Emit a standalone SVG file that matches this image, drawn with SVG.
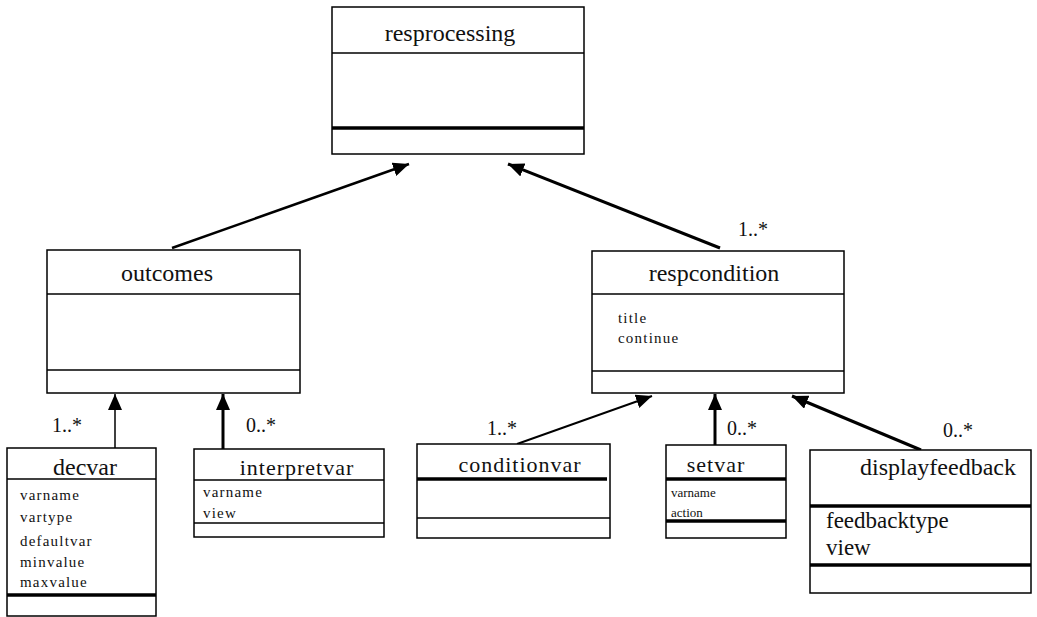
<svg xmlns="http://www.w3.org/2000/svg" width="1037" height="617" viewBox="0 0 1037 617">
<style>
.box{fill:#fff;stroke:#000;stroke-width:1.5}
.sep{stroke:#000;stroke-width:1.5}
.thk{stroke:#000;stroke-width:3.5}
.t{font-family:"Liberation Serif",serif;font-size:24px;fill:#111;text-anchor:middle}
.ts{font-family:"Liberation Serif",serif;font-size:22px;fill:#111;text-anchor:middle;letter-spacing:1px}
.a{font-family:"Liberation Serif",serif;font-size:15px;fill:#111;letter-spacing:1.2px}
.as{font-family:"Liberation Serif",serif;font-size:13px;fill:#111}
.m{font-family:"Liberation Serif",serif;font-size:20px;fill:#111}
.f{font-family:"Liberation Serif",serif;font-size:23px;fill:#111}
.c{stroke:#000;fill:none}
</style>
<defs>
<marker id="ah" markerUnits="userSpaceOnUse" markerWidth="18" markerHeight="14" refX="16" refY="7" orient="auto">
<path d="M0,0 L16,7 L0,14 Z" fill="#000"/>
</marker>
</defs>
<rect width="1037" height="617" fill="#fff"/>
<g id="connectors">
<line class="c" stroke-width="2.5" x1="172" y1="248" x2="409" y2="164" marker-end="url(#ah)"/>
<line class="c" stroke-width="3" x1="720" y1="248" x2="508" y2="164" marker-end="url(#ah)"/>
<line class="c" stroke-width="1.5" x1="115" y1="448" x2="115" y2="394" marker-end="url(#ah)"/>
<line class="c" stroke-width="3" x1="223" y1="449" x2="223" y2="394" marker-end="url(#ah)"/>
<line class="c" stroke-width="2" x1="517" y1="444" x2="652" y2="396" marker-end="url(#ah)"/>
<line class="c" stroke-width="3" x1="715" y1="445" x2="715" y2="394" marker-end="url(#ah)"/>
<line class="c" stroke-width="3" x1="921" y1="450" x2="792" y2="396" marker-end="url(#ah)"/>
<text class="m" x="52" y="432">1..*</text>
<text class="m" x="246" y="432">0..*</text>
<text class="m" x="487" y="435">1..*</text>
<text class="m" x="727" y="435">0..*</text>
<text class="m" x="943" y="437">0..*</text>
<text class="m" x="738" y="236">1..*</text>
</g>
<g id="resprocessing">
<rect class="box" x="332" y="7" width="252" height="147"/>
<line class="sep" x1="332" y1="53" x2="584" y2="53"/>
<line class="thk" x1="332" y1="128" x2="584" y2="128"/>
<text class="t" x="450" y="41">resprocessing</text>
</g>
<g id="outcomes">
<rect class="box" x="47" y="250" width="253" height="143"/>
<line class="sep" x1="47" y1="294" x2="300" y2="294"/>
<line class="sep" x1="47" y1="370" x2="300" y2="370"/>
<text class="t" x="167" y="281">outcomes</text>
</g>
<g id="respcondition">
<rect class="box" x="592" y="251" width="252" height="142"/>
<line class="sep" x1="592" y1="294" x2="844" y2="294"/>
<line class="sep" x1="592" y1="371" x2="844" y2="371"/>
<text class="t" x="714" y="281">respcondition</text>
<text class="a" x="618" y="323" letter-spacing="2">title</text>
<text class="a" x="618" y="343" letter-spacing="2">continue</text>
</g>
<g id="decvar">
<rect class="box" x="7" y="448" width="149" height="168"/>
<line class="sep" x1="7" y1="479" x2="156" y2="479"/>
<line class="thk" x1="7" y1="595" x2="156" y2="595" stroke-width="4"/>
<text class="t" x="85" y="475">decvar</text>
<text class="a" x="20" y="500">varname</text>
<text class="a" x="20" y="522">vartype</text>
<text class="a" x="20" y="546">defaultvar</text>
<text class="a" x="20" y="567">minvalue</text>
<text class="a" x="20" y="587">maxvalue</text>
</g>
<g id="interpretvar">
<rect class="box" x="194" y="449" width="190" height="88"/>
<line class="sep" x1="194" y1="480" x2="384" y2="480"/>
<line class="sep" x1="194" y1="523" x2="384" y2="523"/>
<text class="ts" x="297" y="475">interpretvar</text>
<text class="a" x="203" y="497">varname</text>
<text class="a" x="203" y="518">view</text>
</g>
<g id="conditionvar">
<rect class="box" x="417" y="444" width="193" height="94"/>
<line class="thk" x1="417" y1="479" x2="607" y2="479"/>
<line class="sep" x1="417" y1="518" x2="610" y2="518"/>
<text class="ts" x="520" y="472">conditionvar</text>
</g>
<g id="setvar">
<rect class="box" x="666" y="445" width="120" height="93"/>
<line class="thk" x1="666" y1="479" x2="786" y2="479"/>
<line class="thk" x1="666" y1="521" x2="786" y2="521"/>
<text class="ts" x="716" y="472">setvar</text>
<text class="as" x="671" y="497">varname</text>
<text class="as" x="671" y="517">action</text>
</g>
<g id="displayfeedback">
<rect class="box" x="810" y="450" width="221" height="143"/>
<line class="thk" x1="810" y1="506" x2="1031" y2="506"/>
<line class="thk" x1="810" y1="565" x2="1031" y2="565" stroke-width="3"/>
<text class="t" x="938" y="475">displayfeedback</text>
<text class="f" x="826" y="528">feedbacktype</text>
<text class="f" x="826" y="555">view</text>
</g>
</svg>
